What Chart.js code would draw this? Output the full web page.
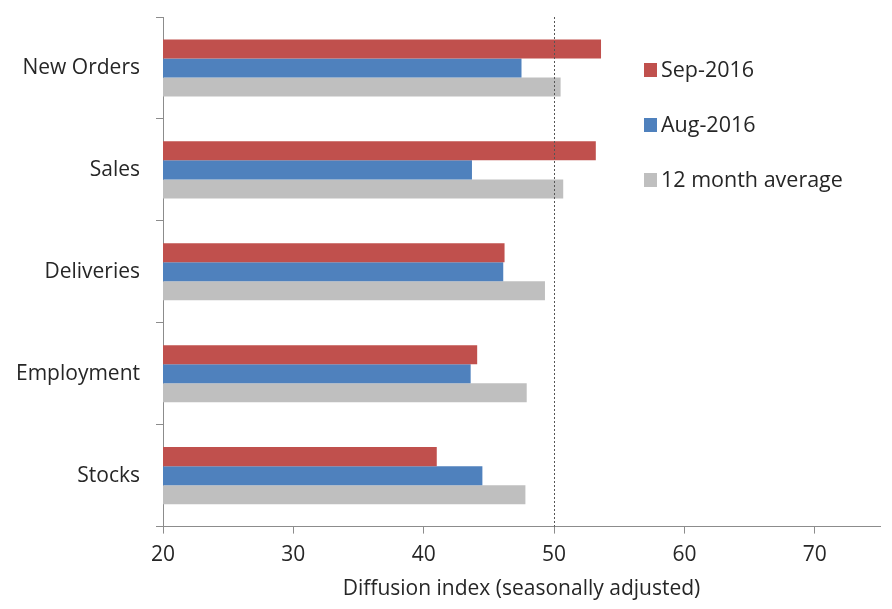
<!DOCTYPE html>
<html>
<head>
<meta charset="utf-8">
<script src="https://cdn.jsdelivr.net/npm/chart.js@4.4.1/dist/chart.umd.min.js"></script>
<style>
  html, body { margin: 0; padding: 0; background: #fff; }
  #wrap { width: 892px; height: 609px; }
</style>
</head>
<body>
<div id="wrap"><canvas id="mycanvas" width="892" height="609"></canvas></div>
<script>
var categories = ['New Orders', 'Sales', 'Deliveries', 'Employment', 'Stocks'];
var sep2016 = [53.6, 53.2, 46.2, 44.1, 41.0];
var aug2016 = [47.5, 43.7, 46.1, 43.6, 44.5];
var avg12m = [50.5, 50.7, 49.3, 47.9, 47.8];
var xTicks = [20, 30, 40, 50, 60, 70];
var refLine = 50;

var fontFamily = "'Open Sans', 'Noto Sans', sans-serif";
var textColor = '#262626';

// dotted line at 50 and the legend on the right
var extras = {
    id: 'extras',
    afterDatasetsDraw: function (chart) {
        var ctx = chart.ctx;
        var x = Math.round(chart.scales.x.getPixelForValue(refLine)) + 0.5;
        ctx.save();
        ctx.strokeStyle = '#555';
        ctx.lineWidth = 1;
        ctx.setLineDash([2, 2]);
        ctx.beginPath();
        ctx.moveTo(x, chart.chartArea.top);
        ctx.lineTo(x, chart.chartArea.bottom);
        ctx.stroke();
        ctx.restore();
    },
    afterDraw: function (chart) {
        var ctx = chart.ctx;
        ctx.save();
        ctx.font = '21.5px ' + fontFamily;
        ctx.textBaseline = 'middle';
        chart.data.datasets.forEach(function (ds, i) {
            var y = 70 + i * 55;
            ctx.fillStyle = ds.backgroundColor;
            ctx.fillRect(644, y - 7, 13, 14);
            ctx.fillStyle = textColor;
            ctx.fillText(ds.label, 661, y + 1);
        });
        ctx.restore();
    }
};

new Chart(document.getElementById('mycanvas'), {
    type: 'bar',
    data: {
        labels: categories,
        datasets: [{
            label: 'Sep-2016',
            backgroundColor: '#C0504D',
            data: sep2016
        }, {
            label: 'Aug-2016',
            backgroundColor: '#4F81BD',
            data: aug2016
        }, {
            label: '12 month average',
            backgroundColor: '#BFBFBF',
            data: avg12m
        }]
    },
    options: {
        indexAxis: 'y',
        responsive: false,
        animation: false,
        devicePixelRatio: 1,
        categoryPercentage: 0.56,
        barPercentage: 1,
        layout: { padding: { top: 17, right: 12, left: 0, bottom: 7 } },
        plugins: {
            legend: { display: false },
            tooltip: { enabled: false }
        },
        scales: {
            x: {
                min: 20,
                max: 75,
                ticks: {
                    stepSize: 10,
                    color: textColor,
                    font: { family: fontFamily, size: 21 },
                    padding: 9
                },
                afterBuildTicks: function (axis) {
                    axis.ticks = xTicks.map(function (v) { return { value: v }; });
                },
                grid: {
                    drawOnChartArea: false,
                    drawTicks: true,
                    tickLength: 7,
                    color: '#8c8c8c'
                },
                border: { color: '#8c8c8c' },
                title: {
                    display: true,
                    text: 'Diffusion index (seasonally adjusted)',
                    color: textColor,
                    font: { family: fontFamily, size: 21 },
                    padding: { top: 0, bottom: 0 }
                }
            },
            y: {
                afterFit: function (axis) {
                    axis.width = 163;
                    axis.paddingTop = 0;
                    axis.paddingBottom = 0;
                },
                ticks: {
                    color: textColor,
                    font: { family: fontFamily, size: 21 },
                    padding: 16
                },
                grid: {
                    drawOnChartArea: false,
                    drawTicks: true,
                    tickLength: 7,
                    offset: true,
                    color: '#8c8c8c'
                },
                border: { color: '#8c8c8c' }
            }
        }
    },
    plugins: [extras]
});
</script>
</body>
</html>
